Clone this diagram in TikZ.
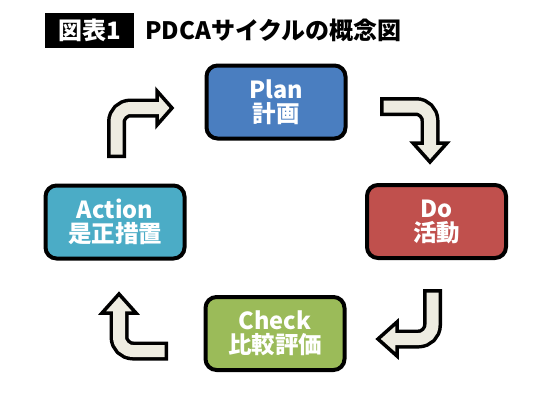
\documentclass[tikz,border=0pt]{standalone}
\usepackage{fontspec}
\setmainfont{Noto Sans CJK JP}
\definecolor{planc}{HTML}{4A7EC0}
\definecolor{doc}{HTML}{C0504D}
\definecolor{checkc}{HTML}{9BBB59}
\definecolor{actc}{HTML}{4BACC6}
\definecolor{arrfill}{HTML}{EEECE1}
\begin{document}
\begin{tikzpicture}[x=1pt,y=-1pt,
  box/.style={draw=black, line width=4pt, rounded corners=11pt, minimum width=139pt, minimum height=73pt,
    text=white, font=\bfseries\fontsize{23.5}{24}\selectfont, align=center, inner sep=0pt},
  shaftout/.style={draw=black, line width=19pt, rounded corners=14pt},
  shaftin/.style={draw=arrfill, line width=12pt, rounded corners=14pt},
  headst/.style={fill=arrfill, draw=black, line width=3.5pt, line join=miter}]
\useasboundingbox[fill=white] (0,0) rectangle (550,400);
% title
\node[fill=black, minimum width=89pt, minimum height=35pt, inner sep=0pt, text=white,
  font=\bfseries\fontsize{24}{26}\selectfont] (tag) at (89.5,30.5) {図表1};
\node[anchor=west, inner sep=0pt, font=\bfseries\fontsize{24}{26}\selectfont] (title) at (145,30.5) {PDCAサイクルの概念図};
% boxes
\node[box, fill=planc] (plan) at (276,102) {Plan\\計画};
\node[box, fill=doc] (do) at (436.5,221.5) {Do\\活動};
\node[box, fill=checkc] (check) at (275,333.5) {Check\\比較評価};
\node[box, fill=actc] (act) at (115,222) {Action\\是正措置};
% arrow 1: Action -> Plan
\coordinate (a1t) at (116.5,158); \coordinate (a1ti) at (116.5,154.5);
\coordinate (a1c) at (116.5,108); \coordinate (a1b) at (157,108); \coordinate (a1bi) at (160,108);
\draw[shaftout] (a1t) -- (a1c) -- (a1b);
\draw[headst] (157,91) -- (172,108) -- (157,125) -- cycle;
\draw[shaftin] (a1ti) -- (a1c) -- (a1bi);
% arrow 2: Plan -> Do
\coordinate (a2t) at (380,106.5); \coordinate (a2ti) at (383.5,106.5);
\coordinate (a2c) at (430,106.5); \coordinate (a2b) at (430,143); \coordinate (a2bi) at (430,146);
\draw[shaftout] (a2t) -- (a2c) -- (a2b);
\draw[headst] (413,143) -- (430,162) -- (447,143) -- cycle;
\draw[shaftin] (a2ti) -- (a2c) -- (a2bi);
% arrow 3: Do -> Check
\coordinate (a3t) at (432.5,289); \coordinate (a3ti) at (432.5,292.5);
\coordinate (a3c) at (432.5,339); \coordinate (a3b) at (397,339); \coordinate (a3bi) at (394,339);
\draw[shaftout] (a3t) -- (a3c) -- (a3b);
\draw[headst] (397,322) -- (378,339) -- (397,356) -- cycle;
\draw[shaftin] (a3ti) -- (a3c) -- (a3bi);
% arrow 4: Check -> Action
\coordinate (a4t) at (168,351); \coordinate (a4ti) at (164.5,351);
\coordinate (a4c) at (119,351); \coordinate (a4b) at (119,313); \coordinate (a4bi) at (119,310);
\draw[shaftout] (a4t) -- (a4c) -- (a4b);
\draw[headst] (102,313) -- (119,294) -- (136,313) -- cycle;
\draw[shaftin] (a4ti) -- (a4c) -- (a4bi);
\end{tikzpicture}
\end{document}
